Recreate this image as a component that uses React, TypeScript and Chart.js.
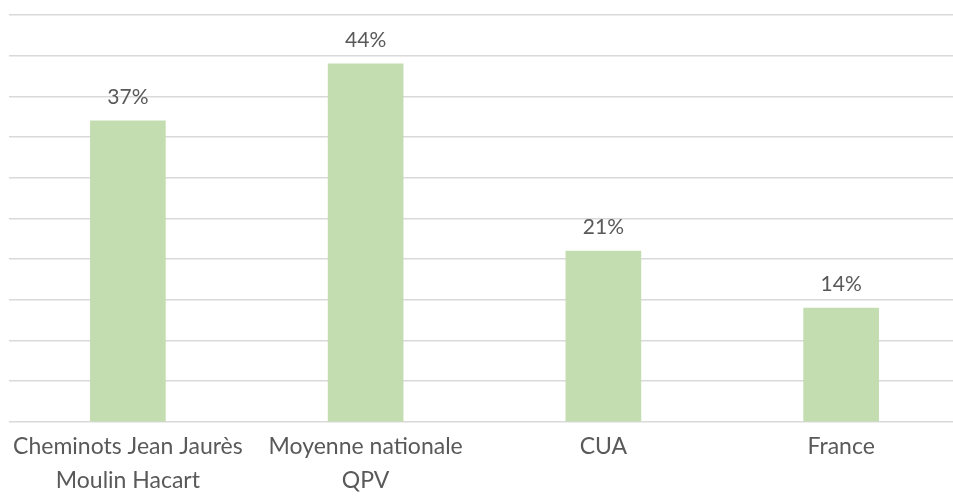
import React, { useEffect, useRef } from "react";
import { Chart, registerables } from "chart.js";

Chart.register(...registerables);

const categories: (string | string[])[] = [
  ["Cheminots Jean Jaurès", "Moulin Hacart"],
  ["Moyenne nationale", "QPV"],
  "CUA",
  "France",
];
const values: number[] = [37, 44, 21, 14];
const valueLabels: string[] = ["37%", "44%", "21%", "14%"];

const FONT = "Lato, 'Open Sans', sans-serif";
const TEXT = "#595959";

const valueLabelPlugin = {
  id: "valueLabels",
  afterDatasetsDraw(chart: any) {
    const ctx = chart.ctx;
    const meta = chart.getDatasetMeta(0);
    ctx.save();
    ctx.font = `21px ${FONT}`;
    ctx.fillStyle = TEXT;
    ctx.textAlign = "center";
    ctx.textBaseline = "middle";
    meta.data.forEach((bar: any, i: number) => {
      ctx.fillText(valueLabels[i], bar.x, bar.y - 24);
    });
    ctx.restore();
  },
};

export default function App() {
  const ref = useRef<HTMLCanvasElement>(null);
  useEffect(() => {
    if (!ref.current) return;
    const chart = new Chart(ref.current, {
      type: "bar",
      data: {
        labels: categories,
        datasets: [
          {
            data: values,
            backgroundColor: "#c3ddb0",
            barThickness: 75,
          },
        ],
      },
      options: {
        animation: false,
        responsive: true,
        maintainAspectRatio: false,
        layout: { padding: { top: 15, left: 1, right: 0, bottom: -2 } },
        plugins: { legend: { display: false }, tooltip: { enabled: false } },
        scales: {
          x: {
            grid: { display: false },
            border: { display: false },
            ticks: {
              color: TEXT,
              font: { family: FONT, size: 23, lineHeight: 1.48 },
              padding: 0,
              maxRotation: 0,
              autoSkip: false,
            },
          },
          y: {
            min: 0,
            max: 50,
            border: { display: false },
            grid: { color: "#d9d9d9", lineWidth: 1.5, drawTicks: false },
            ticks: { display: false, stepSize: 5 },
          },
        },
      },
      plugins: [valueLabelPlugin],
    });
    return () => chart.destroy();
  }, []);
  return (
    <div style={{ position: "fixed", left: 0, top: 0, width: 953, height: 496, overflow: "hidden", background: "#fff" }}>
      <div style={{ position: "absolute", left: 8, top: 0, width: 952, height: 496 }}>
        <canvas ref={ref} />
      </div>
    </div>
  );
}
